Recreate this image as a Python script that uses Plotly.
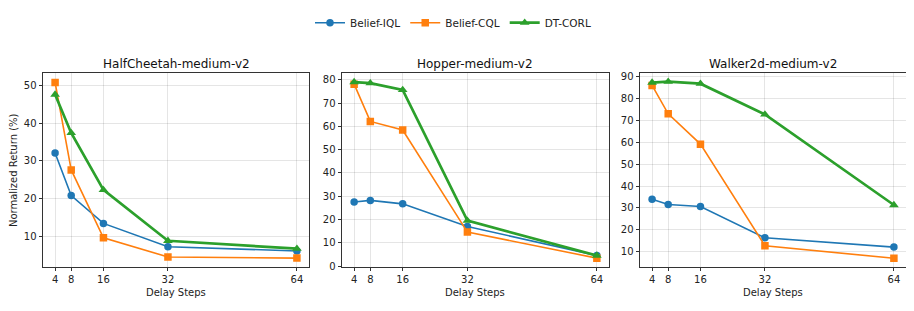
import plotly.graph_objects as go

delays = [4, 8, 16, 32, 64]
titles = ["HalfCheetah-medium-v2", "Hopper-medium-v2", "Walker2d-medium-v2"]

iql = [[32.1, 20.8, 13.4, 7.2, 6.1],
       [27.5, 28.2, 26.7, 17.0, 4.5],
       [33.9, 31.5, 30.6, 16.3, 12.0]]
cql = [[50.8, 27.6, 9.6, 4.5, 4.2],
       [78.1, 62.1, 58.4, 14.6, 3.4],
       [86.1, 73.1, 59.2, 12.6, 6.9]]
dt = [[47.6, 37.4, 22.3, 8.8, 6.7],
      [79.0, 78.5, 75.6, 19.5, 4.5],
      [87.4, 87.8, 86.9, 72.8, 31.3]]

yranges = [[1.9, 53.2], [-0.3, 82.7], [3.0, 91.6]]
ytickvals = [[10, 20, 30, 40, 50], [0, 10, 20, 30, 40, 50, 60, 70, 80],
             [10, 20, 30, 40, 50, 60, 70, 80, 90]]

# page body has an 8px margin; positions below are in reference pixels
OFF = 8
W, H = 914 - OFF, 311 - OFF
xdom = [[43, 309], [342, 609], [640, 906]]
ytop, ybot = 68, 270
font = "DejaVu Sans"


def px(x):
    return (x - OFF) / W


def py(y):
    return (H - (y - OFF)) / H


fig = go.Figure()
series = [
    ("Belief-IQL", iql, "#1f77b4", "circle", 1.6, 7.5),
    ("Belief-CQL", cql, "#ff7f0e", "square", 1.6, 7.5),
    ("DT-CORL", dt, "#2ca02c", "triangle-up", 2.7, 8.5),
]
for i in range(3):
    xa = "x" if i == 0 else f"x{i+1}"
    ya = "y" if i == 0 else f"y{i+1}"
    for name, data, color, sym, lw, ms in series:
        fig.add_trace(go.Scatter(
            x=delays, y=data[i], mode="lines+markers", name=name,
            line=dict(color=color, width=lw),
            marker=dict(symbol=sym, size=ms, color=color),
            xaxis=xa, yaxis=ya, showlegend=(i == 0)))

axis_common = dict(showline=True, linecolor="#333", linewidth=1, mirror=True,
                   ticks="outside", ticklen=3.5, tickwidth=1, tickcolor="#333",
                   showgrid=True, gridcolor="rgba(0,0,0,0.1)", gridwidth=1,
                   zeroline=False, tickfont=dict(family=font, size=10, color="#222"))
layout = dict(width=W, height=H, margin=dict(l=0, r=0, t=0, b=0),
              plot_bgcolor="white", paper_bgcolor="white",
              font=dict(family=font, color="#222"),
              legend=dict(orientation="h", x=px(453), xanchor="center",
                          y=py(15), yanchor="middle",
                          font=dict(family=font, size=10.5), itemwidth=30,
                          tracegroupgap=0))
annotations = []
for i in range(3):
    sfx = "" if i == 0 else str(i + 1)
    x0, x1 = px(xdom[i][0]), px(xdom[i][1])
    layout["xaxis" + sfx] = dict(domain=[x0, x1], range=[1, 67], tickvals=delays,
                                 anchor="y" + sfx, **axis_common)
    layout["yaxis" + sfx] = dict(domain=[py(ybot), py(ytop)],
                                 range=yranges[i], tickvals=ytickvals[i],
                                 anchor="x" + sfx, **axis_common)
    annotations.append(dict(text=titles[i], x=(x0 + x1) / 2, y=py(58.5),
                            xref="paper", yref="paper", showarrow=False,
                            font=dict(family=font, size=12, color="#111"),
                            xanchor="center", yanchor="middle"))
    annotations.append(dict(text="Delay Steps", x=(x0 + x1) / 2, y=py(297),
                            xref="paper", yref="paper", showarrow=False,
                            font=dict(family=font, size=10, color="#222"),
                            xanchor="center", yanchor="middle"))
annotations.append(dict(text="Normalized Return (%)", x=px(13), y=py(169),
                        xref="paper", yref="paper", showarrow=False, textangle=-90,
                        font=dict(family=font, size=10, color="#222"),
                        xanchor="center", yanchor="middle"))
layout["annotations"] = annotations
fig.update_layout(**layout)
fig.write_html("out.html")
